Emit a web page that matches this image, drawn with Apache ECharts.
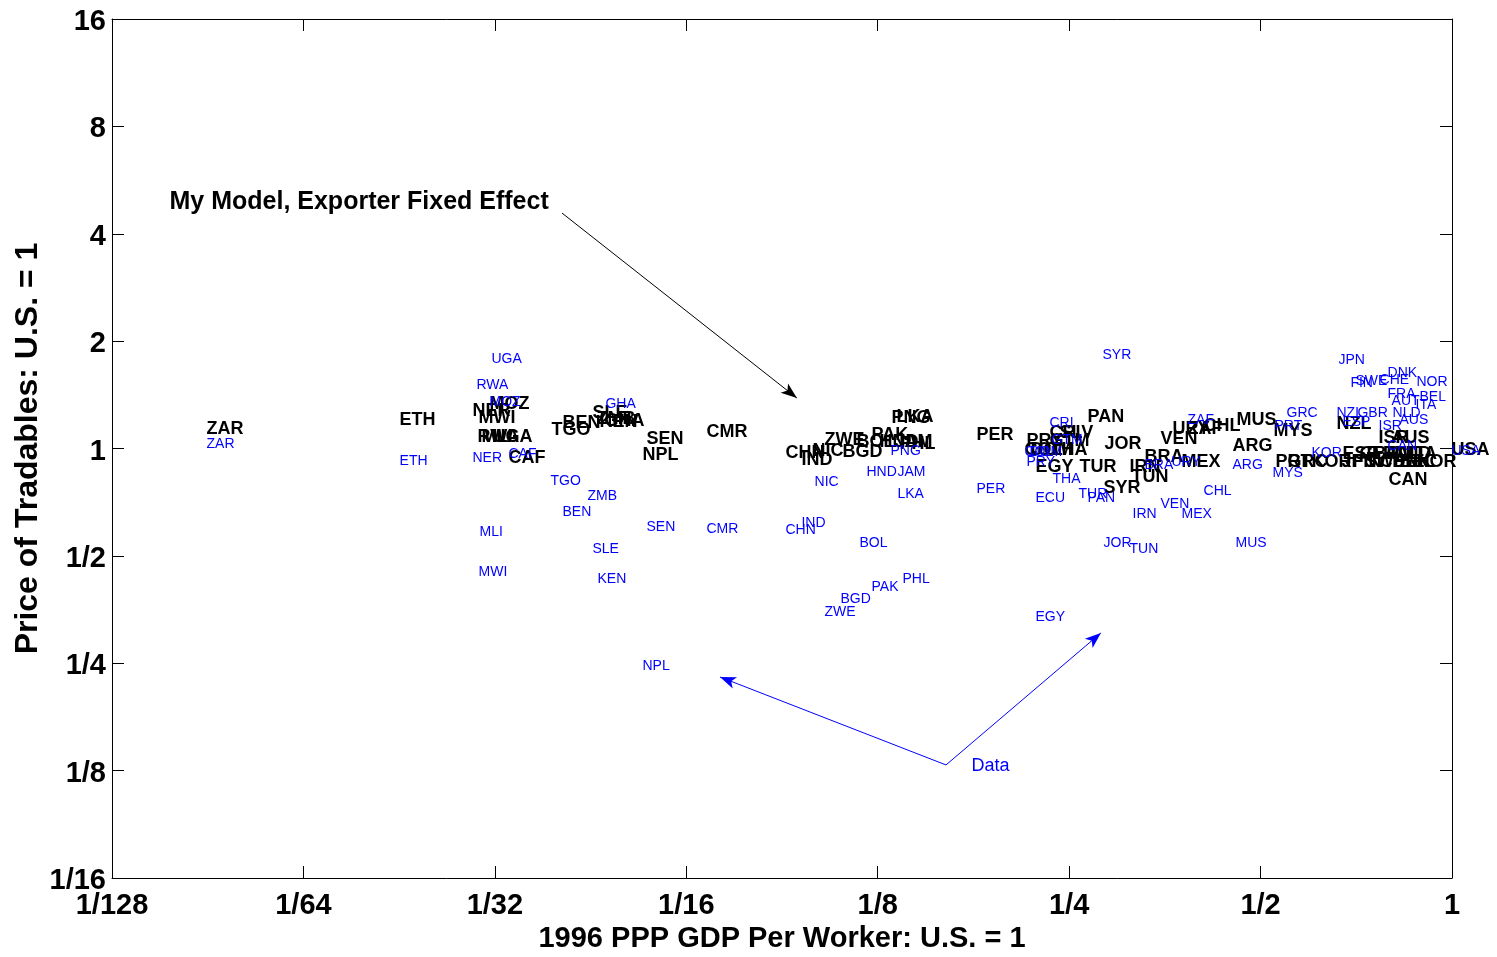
<!DOCTYPE html>
<html>
<head>
<meta charset="utf-8">
<script src="https://cdn.jsdelivr.net/npm/echarts@6/dist/echarts.min.js"></script>
<style>
html,body{margin:0;padding:0;background:#fff;}
#chart{width:1497px;height:957px;}
</style>
</head>
<body>
<div id="chart"></div>
<script>
// ---- Data (values as ratios to U.S.) ----
// Model (black) labels
var modelCodes = ['ZAR','ETH','NER','MWI','MOZ','RWA','MLI','UGA','CAF','TGO','BEN','SLE','ZMB','KEN','GHA','SEN','NPL','CMR','CHN','IND','NIC','ZWE','BGD','BOL','PAK','HND','JAM','PHL','PNG','LKA','PER','PRY','CRI','SLV','GTM','COL','DOM','THA','EGY','TUR','PAN','JOR','SYR','IRN','TUN','BRA','MEX','VEN','URY','ZAF','CHL','MUS','ARG','MYS','PRT','GRC','KOR','NZL','ISR','AUS','CAN','USA','ESP','GBR','AUT','NLD','ITA','JPN','FIN','SWE','CHE','DNK','BEL','NOR','FRA'];
var modelGDP = [0.01102,0.02217,0.02887,0.02951,0.03071,0.02940,0.02983,0.03104,0.03289,0.03843,0.03999,0.04458,0.04523,0.04573,0.04657,0.05421,0.05343,0.06737,0.08968,0.09501,0.09888,0.10329,0.11023,0.11597,0.12245,0.12604,0.13307,0.13550,0.13164,0.13404,0.17908,0.21462,0.23326,0.24184,0.23326,0.21307,0.21773,0.23409,0.22172,0.26003,0.26765,0.28465,0.28362,0.31165,0.31393,0.32903,0.37622,0.34862,0.36412,0.38446,0.40742,0.45910,0.45249,0.52490,0.52874,0.55219,0.60236,0.6594,0.7679,0.8050,0.7963,1.0,0.6737,0.7167,0.7846,0.8137,0.8588,0.6713,0.6985,0.7296,0.7708,0.8077,0.8283,0.8810,0.7500];
var modelPrice = [1.1414,1.2098,1.2819,1.2255,1.3413,1.0840,1.0840,1.0840,0.9466,1.1340,1.1865,1.2655,1.2176,1.1943,1.2020,1.0701,0.9651,1.1196,0.9777,0.9345,0.9903,1.0633,0.9840,1.0496,1.0981,1.0496,1.0496,1.0361,1.2255,1.2334,1.0981,1.0564,1.1123,1.1123,1.0564,0.9968,0.9968,0.9968,0.8932,0.8932,1.2334,1.0361,0.7801,0.8932,0.8373,0.9528,0.9225,1.0701,1.1414,1.1414,1.1638,1.2098,1.0229,1.1268,0.9225,0.9225,0.9225,1.1789,1.0770,1.0770,0.8213,1.0,0.9714,0.9714,0.9714,0.9714,0.9714,0.9225,0.9225,0.9225,0.9225,0.9225,0.9225,0.9225,0.9714];
// Data (blue) labels
var dataCodes = ['ZAR','ETH','UGA','RWA','MOZ','NER','CAF','GHA','TGO','ZMB','BEN','MLI','SLE','MWI','KEN','SEN','NPL','CMR','CHN','IND','NIC','BOL','PHL','PAK','BGD','ZWE','PNG','HND','JAM','LKA','PER','CRI','GTM','COL','DOM','PRY','THA','ECU','EGY','TUR','PAN','SYR','JOR','TUN','IRN','BRA','URY','VEN','MEX','ZAF','CHL','ARG','MUS','GRC','PRT','MYS','KOR','NZL','GBR','ESP','ISR','NLD','AUS','JPN','FIN','SWE','CHE','DNK','NOR','FRA','BEL','AUT','ITA','CAN','USA'];
var dataGDP = [0.01102,0.02217,0.03093,0.02929,0.03071,0.02887,0.03289,0.04673,0.03830,0.04378,0.03999,0.02961,0.04458,0.02951,0.04540,0.05421,0.05343,0.06737,0.08968,0.09501,0.09962,0.11724,0.13699,0.12245,0.10942,0.10329,0.13116,0.12024,0.13452,0.13452,0.17908,0.23326,0.23493,0.21307,0.21696,0.21462,0.23580,0.22172,0.22172,0.25907,0.26765,0.28261,0.28362,0.31165,0.31507,0.32903,0.36282,0.34862,0.37622,0.38446,0.40742,0.45249,0.45742,0.55025,0.52683,0.52302,0.60236,0.6594,0.7113,0.6737,0.7679,0.8077,0.8283,0.6641,0.6935,0.7062,0.7708,0.7933,0.8810,0.7933,0.8906,0.8050,0.8778,0.7933,1.0];
var dataPrice = [1.0361,0.9285,1.7935,1.5164,1.3587,0.9466,0.9714,1.3413,0.8160,0.7409,0.6683,0.5870,0.5262,0.4537,0.4337,0.6063,0.2473,0.5986,0.5947,0.6222,0.8107,0.5470,0.4337,0.4119,0.3811,0.3503,0.9903,0.8649,0.8649,0.7505,0.7750,1.1865,1.0633,0.9840,0.9840,0.9225,0.8266,0.7313,0.3393,0.7505,0.7313,1.8403,0.5470,0.5262,0.6594,0.9048,0.9225,0.7037,0.6594,1.2098,0.7651,0.9048,0.5470,1.2655,1.1638,0.8593,0.9777,1.2655,1.2655,1.1943,1.1638,1.2655,1.2098,1.7818,1.5361,1.5560,1.5661,1.6384,1.5460,1.4307,1.4033,1.3676,1.3327,1.0229,0.99];
// Tick labels
var xTickLabels = ['1/128','1/64','1/32','1/16','1/8','1/4','1/2','1'];
var yTickLabels = ['1/16','1/8','1/4','1/2','1','2','4','8','16'];
// Annotations (in data units)
var modelText = 'My Model, Exporter Fixed Effect';
var modelTextPos = [0.009638, 4.97];
var modelArrow = [[0.03985, 4.572], [0.09329, 1.3851]];
var dataText = 'Data';
var dataTextPos = [0.17592, 0.12967];
var dataArrow1 = [[0.16008, 0.12967], [0.07061, 0.22878]];
var dataArrow2 = [[0.16008, 0.12967], [0.28047, 0.30398]];

// ---- Build ----
var FONT = '"Liberation Sans", Arial, Helvetica, sans-serif';
function L(v){ return Math.log2(v); }
function pts(codes, xs, ys){
  return codes.map(function(c,i){ return {name:c, value:[L(xs[i]), L(ys[i])]}; });
}
function labelSeries(codes, xs, ys, color, size, weight){
  return {
    type:'scatter', symbol:'circle', symbolSize:1, clip:false,
    itemStyle:{color:'rgba(0,0,0,0)', opacity:1},
    silent:true,
    label:{show:true, position:[0,0], align:'left', verticalAlign:'middle', offset:[0,2],
      formatter:'{b}', color:color, opacity:1, fontSize:size, fontWeight:weight, fontFamily:FONT},
    emphasis:{disabled:true},
    data: pts(codes, xs, ys)
  };
}
function coordOf(p){ return [L(p[0]), L(p[1])]; }

var chart = echarts.init(document.getElementById('chart'), null, {renderer:'canvas'});
var axisCommon = {
  type:'value', splitLine:{show:false},
  axisLine:{show:true, onZero:false, lineStyle:{color:'#000', width:1}},
  axisTick:{show:true, inside:true, length:12, lineStyle:{color:'#000', width:1}}
};
var option = {
  backgroundColor:'#fff',
  animation:false,
  grid:{left:112, right:45, top:19, bottom:79, containLabel:false, outerBoundsMode:'none'},
  xAxis:[
    Object.assign({}, axisCommon, {position:'bottom', min:-7, max:0, interval:1,
      name:'1996 PPP GDP Per Worker: U.S. = 1', nameLocation:'middle', nameGap:46, nameMoveOverlap:false,
      nameTextStyle:{color:'#000', fontSize:29, fontWeight:'bold', fontFamily:FONT},
      axisLabel:{show:true, margin:13, color:'#000', fontSize:29, fontWeight:'bold', fontFamily:FONT,
        formatter:function(v){ return xTickLabels[Math.round(v)+7]; }}}),
    Object.assign({}, axisCommon, {position:'top', min:-7, max:0, interval:1, axisLabel:{show:false}})
  ],
  yAxis:[
    Object.assign({}, axisCommon, {position:'left', min:-4, max:4, interval:1,
      name:'Price of Tradables: U.S. = 1', nameLocation:'middle', nameGap:68, nameRotate:90, nameMoveOverlap:false,
      nameTextStyle:{color:'#000', fontSize:32, fontWeight:'bold', fontFamily:FONT},
      axisLabel:{show:true, margin:6, color:'#000', fontSize:29, fontWeight:'bold', fontFamily:FONT,
        formatter:function(v){ return '{t|' + yTickLabels[Math.round(v)+4] + '}'; },
        rich:{t:{fontSize:29, fontWeight:'bold', fontFamily:FONT, color:'#000', padding:[6,0,0,0]}}}}),
    Object.assign({}, axisCommon, {position:'right', min:-4, max:4, interval:1, axisLabel:{show:false}})
  ],
  series:[
    labelSeries(modelCodes, modelGDP, modelPrice, '#000000', 18, 'bold'),
    labelSeries(dataCodes, dataGDP, dataPrice, '#0000ff', 14, 'normal'),
    {
      type:'scatter', symbolSize:1, clip:false, silent:true,
      itemStyle:{color:'rgba(0,0,0,0)', opacity:1},
      label:{show:true, position:[0,0], align:'left', verticalAlign:'middle', offset:[0,2], formatter:'{b}', fontFamily:FONT, opacity:1},
      data:[
        {name:modelText, value:coordOf(modelTextPos), label:{color:'#000000', fontSize:25, fontWeight:'bold'}},
        {name:dataText, value:coordOf(dataTextPos), label:{color:'#0000ff', fontSize:18, fontWeight:'normal'}}
      ],
      markLine:{
        silent:true, animation:false, precision:6,
        label:{show:false},
        symbol:['none','arrow'],
        data:[
          [{coord:coordOf(modelArrow[0]), symbol:'none', lineStyle:{color:'#000', width:1, type:'solid', opacity:1}},
           {coord:coordOf(modelArrow[1]), symbol:'arrow', symbolSize:[9,16]}],
          [{coord:coordOf(dataArrow1[0]), symbol:'none', lineStyle:{color:'#0000ff', width:1, type:'solid', opacity:1}},
           {coord:coordOf(dataArrow1[1]), symbol:'arrow', symbolSize:[9,16]}],
          [{coord:coordOf(dataArrow2[0]), symbol:'none', lineStyle:{color:'#0000ff', width:1, type:'solid', opacity:1}},
           {coord:coordOf(dataArrow2[1]), symbol:'arrow', symbolSize:[9,16]}]
        ]
      }
    }
  ]
};
chart.setOption(option);
</script>
</body>
</html>
